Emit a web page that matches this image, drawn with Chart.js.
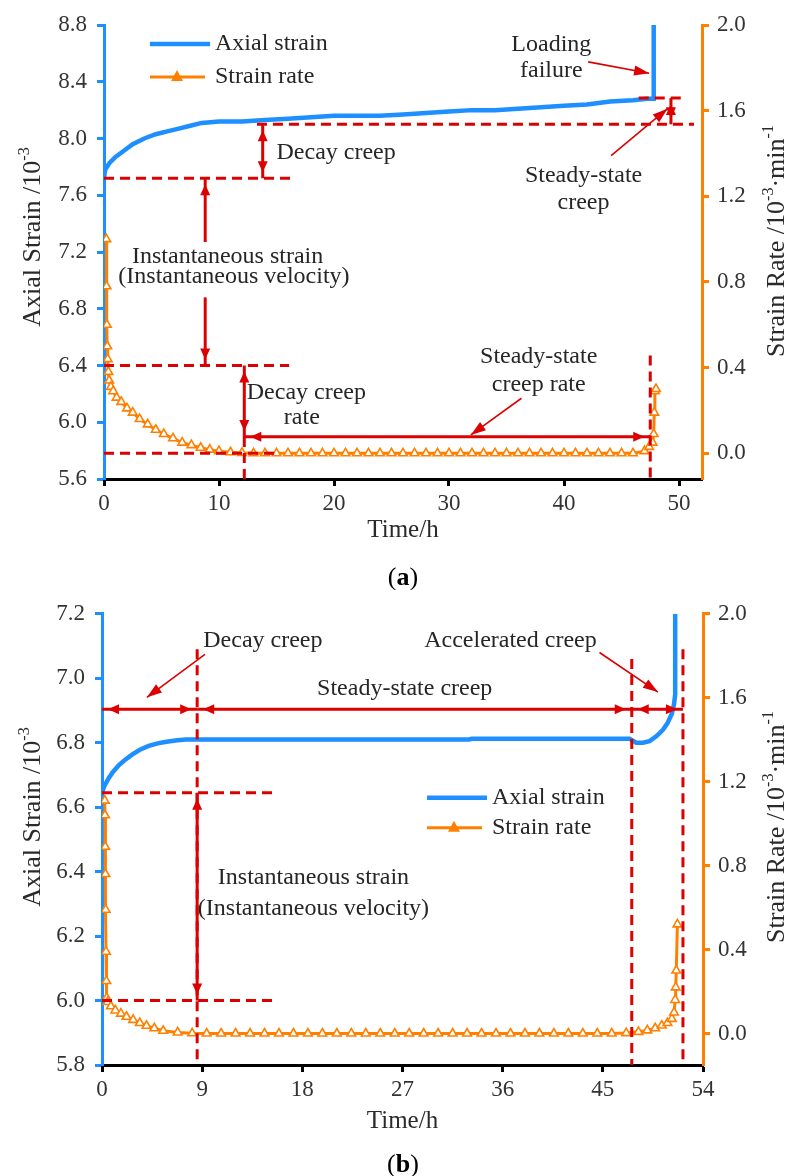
<!DOCTYPE html>
<html>
<head>
<meta charset="utf-8">
<script src="https://cdn.jsdelivr.net/npm/chart.js"></script>
<title>Creep curves</title>
<style>
  body { margin: 0; background: #fff; }
  canvas { display: block; }
</style>
</head>
<body>
<canvas id="chartA" width="790" height="590"></canvas>
<canvas id="chartB" width="790" height="586"></canvas>

<script>
// ---- panel (a) data ----
const timeStrainA = [0, 0.1, 0.5, 1, 1.5, 2.5, 3.5, 4.5, 5.5, 6.5, 7.5, 8.5, 10, 12, 14, 16, 18, 20, 22, 24, 26, 28, 30, 32, 34, 36, 38, 40, 42, 44, 46, 47.2, 47.8, 47.8];
const strainA = [7.72, 7.78, 7.83, 7.87, 7.9, 7.96, 8.0, 8.03, 8.05, 8.07, 8.09, 8.11, 8.12, 8.12, 8.13, 8.14, 8.15, 8.16, 8.16, 8.16, 8.17, 8.18, 8.19, 8.2, 8.2, 8.21, 8.22, 8.23, 8.24, 8.26, 8.27, 8.28, 8.28, 8.8];

const timeRateA = [
  0.2, 0.22, 0.25, 0.28, 0.32, 0.38, 0.45, 0.6, 0.8, 1.1,
  1.5, 2.0, 2.5, 3.1, 3.8, 4.5, 5.2, 6.0, 6.8, 7.6,
  8.4, 9.2, 10, 11, 12, 13, 14, 15, 16, 17,
  18, 19, 20, 21, 22, 23, 24, 25, 26, 27,
  28, 29, 30, 31, 32, 33, 34, 35, 36, 37,
  38, 39, 40, 41, 42, 43, 44, 45, 46, 47.0,
  47.4, 47.7, 47.8, 47.85, 47.9, 48.0
];
const rateA = [
  1.0, 0.78, 0.6, 0.5, 0.44, 0.38, 0.34, 0.31, 0.29, 0.26,
  0.24, 0.21, 0.19, 0.16, 0.135, 0.11, 0.09, 0.07, 0.05, 0.038,
  0.026, 0.017, 0.01, 0.005, 0.002, 0, 0, 0, 0, 0,
  0, 0, 0, 0, 0, 0, 0, 0, 0, 0,
  0, 0, 0, 0, 0, 0, 0, 0, 0, 0,
  0, 0, 0, 0, 0, 0, 0, 0, 0, 0.01,
  0.03, 0.05, 0.09, 0.19, 0.29, 0.3
];

const xTicksA = [0, 10, 20, 30, 40, 50];
const strainTicksA = [5.6, 6.0, 6.4, 6.8, 7.2, 7.6, 8.0, 8.4, 8.8];

// ---- panel (b) data ----
const timeStrainB = [0, 0.2, 0.6, 1.0, 1.5, 2.0, 2.7, 3.4, 4.2, 5.0, 5.8, 6.6, 7.5, 8.5, 12, 16, 20, 24, 28, 33, 33.2, 38, 42, 47.4, 48, 48.6, 49.2, 49.8, 50.4, 50.8, 51.2, 51.4, 51.5, 51.5];
const strainB = [6.645, 6.665, 6.69, 6.71, 6.73, 6.745, 6.763, 6.778, 6.79, 6.798, 6.803, 6.807, 6.81, 6.81, 6.81, 6.81, 6.81, 6.81, 6.81, 6.81, 6.812, 6.812, 6.812, 6.812, 6.80, 6.80, 6.805, 6.82, 6.84, 6.86, 6.89, 6.92, 6.95, 7.2];

const timeRateB = [
  0.25, 0.27, 0.29, 0.31, 0.33, 0.36, 0.39, 0.42, 0.5, 0.8,
  1.2, 1.7, 2.2, 2.8, 3.4, 4.0, 4.7, 5.5, 6.8, 8.1,
  9.4, 10.7, 12.0, 13.3, 14.6, 15.9, 17.2, 18.5, 19.8, 21.1,
  22.4, 23.7, 25.0, 26.3, 27.6, 28.9, 30.2, 31.5, 32.8, 34.1,
  35.4, 36.7, 38.0, 39.3, 40.6, 41.9, 43.2, 44.5, 45.8, 47.1,
  48.2, 49.0, 49.7, 50.3, 50.8, 51.2, 51.4, 51.5, 51.55, 51.6,
  51.7
];
const rateB = [
  1.11, 1.04, 0.89, 0.76, 0.59, 0.39, 0.25, 0.17, 0.15, 0.13,
  0.11, 0.095, 0.08, 0.065, 0.05, 0.037, 0.025, 0.013, 0.005, 0.001,
  0, 0, 0, 0, 0, 0, 0, 0, 0, 0,
  0, 0, 0, 0, 0, 0, 0, 0, 0, 0,
  0, 0, 0, 0, 0, 0, 0, 0, 0, 0.002,
  0.008, 0.015, 0.025, 0.038, 0.05, 0.07, 0.1, 0.16, 0.22, 0.3,
  0.52
];

const xTicksB = [0, 9, 18, 27, 36, 45, 54];
const strainTicksB = [5.8, 6.0, 6.2, 6.4, 6.6, 6.8, 7.0, 7.2];
const rateTicks = [0, 0.4, 0.8, 1.2, 1.6, 2.0];

// ---- styling ----
const BLUE = '#1e8fff';
const ORANGE = '#ff8000';
const RED = '#dc0000';
const INK = '#262626';
const SERIF = '"Liberation Serif", "Times New Roman", serif';

// annotation layouts, in data units (x = time, y = left axis unless ax:'y2')
const notesA = {
  dashed: [
    { x: [0, 16.7], y: [7.72, 7.72] },
    { x: [13.3, 51.3], y: [8.10, 8.10] },
    { x: [46.5, 50.6], y: [8.285, 8.285] },
    { x: [0, 16.1], y: [6.40, 6.40] },
    { x: [0, 15.3], y: [0, 0], ax: 'y2' },
    { x: [12.2, 12.2], y: [5.896, 5.6] },
    { x: [47.5, 47.5], y: [6.47, 5.6] }
  ],
  dims: [
    { x: [13.8, 13.8], y: [8.10, 7.72], heads: [1, 1] },
    { x: [8.8, 8.8], y: [7.72, 7.27], heads: [1, 0] },
    { x: [8.8, 8.8], y: [6.88, 6.40], heads: [0, 1] },
    { x: [12.2, 12.2], y: [6.40, 5.896], heads: [1, 1] },
    { x: [12.2, 47.5], y: [0.077, 0.077], ax: 'y2', heads: [1, 1] },
    { x: [49.3, 49.3], y: [8.285, 8.10], heads: [1, 1] }
  ],
  pointers: [
    { x: [42.1, 47.4], y: [8.54, 8.46] },
    { x: [44.1, 49.0], y: [7.88, 8.21] },
    { x: [36.3, 31.9], y: [0.257, 0.086], ax: 'y2' }
  ],
  labels: [
    { t: 'Loading', x: 38.9, y: 8.66 },
    { t: 'failure', x: 38.9, y: 8.48 },
    { t: 'Decay creep', x: 15.0, y: 7.90, align: 'left' },
    { t: 'Steady-state', x: 41.7, y: 7.736 },
    { t: 'creep', x: 41.7, y: 7.545 },
    { t: 'Instantaneous strain', x: 10.75, y: 7.165 },
    { t: '(Instantaneous velocity)', x: 11.3, y: 7.024 },
    { t: 'Decay creep', x: 17.6, y: 0.285, ax: 'y2' },
    { t: 'rate', x: 17.2, y: 0.168, ax: 'y2' },
    { t: 'Steady-state', x: 37.8, y: 0.449, ax: 'y2' },
    { t: 'creep rate', x: 37.8, y: 0.318, ax: 'y2' }
  ],
  legend: { dx: 46, dy: 19, gap: 33 },
  titles: { leftX: 33, leftY: 237, rightX: 777, rightY: 241, timeY: 530, panelY: 578, panel: 'a' }
};

const notesB = {
  dashed: [
    { x: [8.55, 8.55], y: [7.09, 5.8] },
    { x: [47.6, 47.6], y: [7.06, 5.8] },
    { x: [52.2, 52.2], y: [7.09, 5.8] },
    { x: [0, 15.8], y: [6.645, 6.645] },
    { x: [0, 15.8], y: [6.0, 6.0] }
  ],
  dims: [
    { x: [0, 8.55], y: [6.904, 6.904], heads: [1, 1] },
    { x: [8.55, 47.6], y: [6.904, 6.904], heads: [1, 1] },
    { x: [47.6, 52.2], y: [6.904, 6.904], heads: [1, 1] },
    { x: [8.55, 8.55], y: [6.645, 6.0], heads: [1, 1] }
  ],
  pointers: [
    { x: [9.25, 4.04], y: [7.074, 6.941] },
    { x: [44.7, 49.95], y: [7.08, 6.957] }
  ],
  labels: [
    { t: 'Decay creep', x: 9.1, y: 7.117, align: 'left' },
    { t: 'Steady-state creep', x: 27.2, y: 6.969 },
    { t: 'Accelerated creep', x: 36.7, y: 7.117 },
    { t: 'Instantaneous strain', x: 19.0, y: 6.38 },
    { t: '(Instantaneous velocity)', x: 19.0, y: 6.285 }
  ],
  legend: { dx: 325, dy: 184, gap: 30 },
  titles: { leftX: 33, leftY: 227, rightX: 777, rightY: 237, timeY: 531, panelY: 575, panel: 'b' }
};

function series(ts, vs) {
  return ts.map((t, i) => ({ x: t, y: vs[i] }));
}

function head(ctx, x, y, ang, len, hw) {
  const c = Math.cos(ang), s = Math.sin(ang);
  ctx.beginPath();
  ctx.moveTo(x, y);
  ctx.lineTo(x - len * c + hw * s, y - len * s - hw * c);
  ctx.lineTo(x - len * c - hw * s, y - len * s + hw * c);
  ctx.closePath();
  ctx.fill();
}

function richText(ctx, parts, x, y, rot, size) {
  ctx.save();
  ctx.translate(x, y);
  ctx.rotate(rot);
  ctx.textBaseline = 'middle';
  ctx.textAlign = 'left';
  let w = 0;
  const fontOf = p => (p.bold ? 'bold ' : '') + (p.sup ? size * 0.62 : size) + 'px ' + SERIF;
  parts.forEach(p => { ctx.font = fontOf(p); p.w = ctx.measureText(p.t).width; w += p.w; });
  let cx = -w / 2;
  parts.forEach(p => {
    ctx.font = fontOf(p);
    ctx.fillText(p.t, cx, p.sup ? -size * 0.33 : 0);
    cx += p.w;
  });
  ctx.restore();
}

function overlay(notes) {
  return {
    id: 'overlay',
    afterDraw(chart) {
      const ctx = chart.ctx;
      const area = chart.chartArea;
      const X = v => chart.scales.x.getPixelForValue(v);
      const Y = (v, ax) => chart.scales[ax || 'y'].getPixelForValue(v);
      ctx.save();
      ctx.strokeStyle = RED;
      ctx.fillStyle = RED;

      // dashed guide lines
      ctx.lineWidth = 3;
      ctx.setLineDash([10, 6]);
      notes.dashed.forEach(d => {
        ctx.beginPath();
        ctx.moveTo(X(d.x[0]), Y(d.y[0], d.ax));
        ctx.lineTo(X(d.x[1]), Y(d.y[1], d.ax));
        ctx.stroke();
      });
      ctx.setLineDash([]);

      // dimension lines
      notes.dims.forEach(d => {
        const x1 = X(d.x[0]), y1 = Y(d.y[0], d.ax), x2 = X(d.x[1]), y2 = Y(d.y[1], d.ax);
        ctx.lineWidth = 3;
        ctx.beginPath();
        ctx.moveTo(x1, y1);
        ctx.lineTo(x2, y2);
        ctx.stroke();
        const ang = Math.atan2(y2 - y1, x2 - x1);
        const ins = 6;
        if (d.heads[0]) head(ctx, x1 + ins * Math.cos(ang), y1 + ins * Math.sin(ang), ang + Math.PI, 11, 5);
        if (d.heads[1]) head(ctx, x2 - ins * Math.cos(ang), y2 - ins * Math.sin(ang), ang, 11, 5);
      });

      // pointer arrows
      notes.pointers.forEach(d => {
        const x1 = X(d.x[0]), y1 = Y(d.y[0], d.ax), x2 = X(d.x[1]), y2 = Y(d.y[1], d.ax);
        ctx.lineWidth = 1.6;
        ctx.beginPath();
        ctx.moveTo(x1, y1);
        ctx.lineTo(x2, y2);
        ctx.stroke();
        head(ctx, x2, y2, Math.atan2(y2 - y1, x2 - x1), 15, 5);
      });

      // annotation text
      ctx.fillStyle = INK;
      ctx.font = '24px ' + SERIF;
      ctx.textBaseline = 'middle';
      notes.labels.forEach(l => {
        ctx.textAlign = l.align || 'center';
        ctx.fillText(l.t, X(l.x), Y(l.y, l.ax));
      });

      // legend
      const lx = area.left + notes.legend.dx, ly = area.top + notes.legend.dy;
      ctx.lineWidth = 4.5;
      ctx.strokeStyle = BLUE;
      ctx.beginPath(); ctx.moveTo(lx, ly); ctx.lineTo(lx + 60, ly); ctx.stroke();
      ctx.lineWidth = 3;
      ctx.strokeStyle = ORANGE;
      const oy = ly + notes.legend.gap;
      ctx.beginPath(); ctx.moveTo(lx, oy); ctx.lineTo(lx + 55, oy); ctx.stroke();
      ctx.fillStyle = ORANGE;
      ctx.beginPath();
      ctx.moveTo(lx + 27, oy - 7); ctx.lineTo(lx + 33, oy + 4); ctx.lineTo(lx + 21, oy + 4);
      ctx.closePath(); ctx.fill();
      ctx.fillStyle = INK;
      ctx.textAlign = 'left';
      ctx.font = '24px ' + SERIF;
      ctx.fillText('Axial strain', lx + 65, ly);
      ctx.fillText('Strain rate', lx + 65, oy);

      // axis titles and panel tag
      const t = notes.titles;
      ctx.fillStyle = '#2a2a2a';
      richText(ctx, [{ t: 'Axial Strain /10' }, { t: '-3', sup: true }], t.leftX, t.leftY, -Math.PI / 2, 26);
      richText(ctx, [{ t: 'Strain Rate /10' }, { t: '-3', sup: true }, { t: '\u00b7min' }, { t: '-1', sup: true }], t.rightX, t.rightY, -Math.PI / 2, 26);
      richText(ctx, [{ t: 'Time/h' }], (area.left + area.right) / 2, t.timeY, 0, 25);
      ctx.fillStyle = '#000';
      richText(ctx, [{ t: '(' }, { t: t.panel, bold: true }, { t: ')' }], 403, t.panelY, 0, 26);
      ctx.restore();
    }
  };
}

function axis(pos, color, min, max, values, fmt, size, pad) {
  return {
    type: 'linear',
    position: pos,
    min: min,
    max: max,
    afterBuildTicks: s => { s.ticks = values.map(v => ({ value: v })); },
    afterFit: s => { if (pos === 'bottom') s.height = size; else s.width = size; },
    ticks: {
      color: '#333',
      font: { family: SERIF, size: 23 },
      padding: pad,
      autoSkip: false,
      maxRotation: 0,
      callback: v => fmt(v)
    },
    grid: {
      display: true,
      drawOnChartArea: false,
      drawTicks: true,
      tickLength: 7,
      tickWidth: 3,
      tickColor: color,
      color: color
    },
    border: { display: true, color: color, width: 3 }
  };
}

function makeChart(id, p) {
  new Chart(document.getElementById(id), {
    type: 'scatter',
    data: {
      datasets: [
        {
          label: 'Axial strain',
          data: series(p.ts, p.strain),
          yAxisID: 'y',
          showLine: true,
          borderColor: BLUE,
          borderWidth: 4.5,
          pointRadius: 0
        },
        {
          label: 'Strain rate',
          data: series(p.tr, p.rate),
          yAxisID: 'y2',
          showLine: true,
          borderColor: ORANGE,
          borderWidth: 3,
          pointStyle: 'triangle',
          pointRadius: 5,
          pointBackgroundColor: '#fff',
          pointBorderColor: ORANGE,
          pointBorderWidth: 1.6
        }
      ]
    },
    options: {
      responsive: false,
      animation: false,
      devicePixelRatio: 1,
      layout: { padding: { top: p.top, left: 0, right: 0, bottom: 0 } },
      plugins: { legend: { display: false }, tooltip: { enabled: false } },
      scales: {
        x: axis('bottom', '#000', p.xMin, p.xMax, p.xTicks, v => String(v), p.bottom, 4),
        y: axis('left', BLUE, p.yMin, p.yMax, p.yTicks, v => v.toFixed(1), p.left, 10),
        y2: axis('right', ORANGE, p.rMin, 2.0, rateTicks, v => v.toFixed(1), p.right, 8)
      }
    },
    plugins: [overlay(p.notes)]
  });
}

makeChart('chartA', {
  ts: timeStrainA, strain: strainA, tr: timeRateA, rate: rateA,
  xMin: 0, xMax: 52, xTicks: xTicksA,
  yMin: 5.6, yMax: 8.8, yTicks: strainTicksA,
  rMin: -0.12,
  top: 25, left: 104, right: 88, bottom: 111,
  notes: notesA
});

makeChart('chartB', {
  ts: timeStrainB, strain: strainB, tr: timeRateB, rate: rateB,
  xMin: 0, xMax: 54, xTicks: xTicksB,
  yMin: 5.8, yMax: 7.2, yTicks: strainTicksB,
  rMin: -0.15,
  top: 21, left: 102, right: 87, bottom: 111,
  notes: notesB
});
</script>
</body>
</html>
